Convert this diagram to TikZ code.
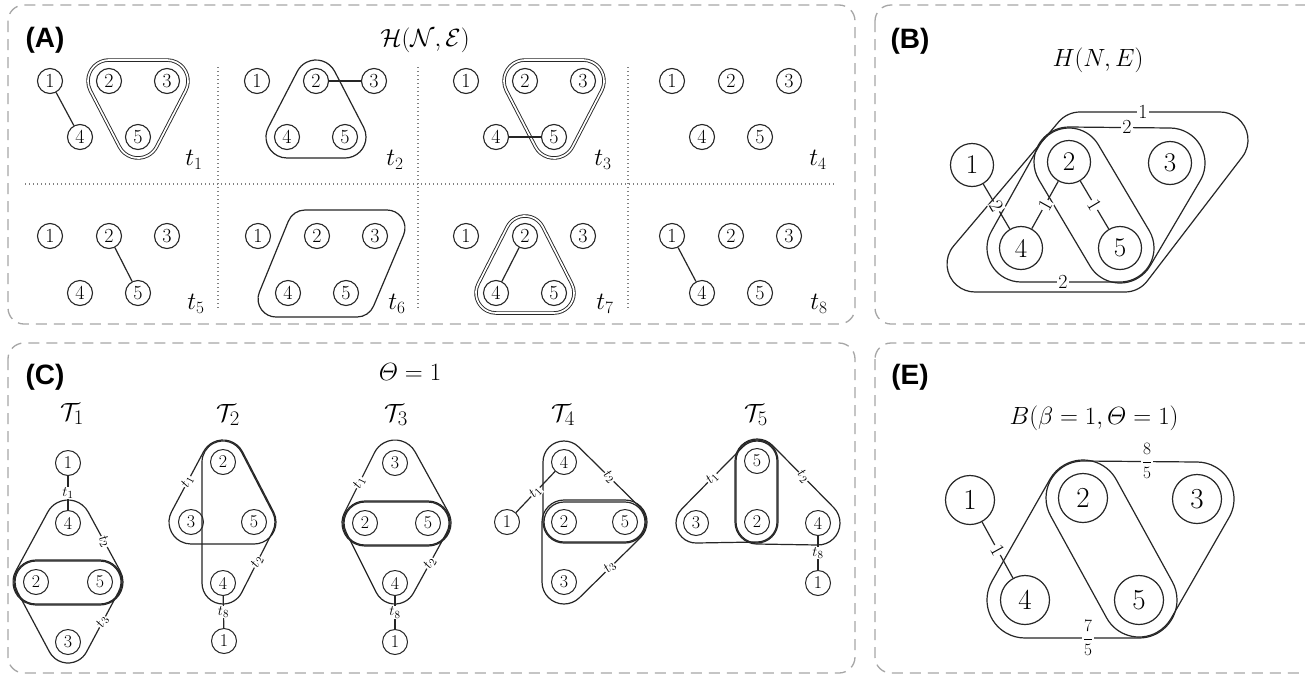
\documentclass[tikz,border=0pt]{standalone}
\usepackage{amsmath}
\usepackage{fontspec}
\newfontfamily\panelfont{Liberation Sans}
\usetikzlibrary{calc}

% Rounded hulls around 2, 3 or 4 centres (counter-clockwise order), radius in pt
\newcommand\hullII[4][]{%
  \draw[hull,#1] let \p1=(#3), \p2=(#4), \n1={atan2((\y2)-(\y1),(\x2)-(\x1))} in
    ($(\p1)+(\n1-90:#2pt)$) -- ($(\p2)+(\n1-90:#2pt)$)
    arc[start angle=\n1-90, delta angle=180, radius=#2pt]
    -- ($(\p1)+(\n1+90:#2pt)$)
    arc[start angle=\n1+90, delta angle=180, radius=#2pt] -- cycle;}
\newcommand\hullIII[5][]{%
  \draw[hull,#1] let \p1=(#3), \p2=(#4), \p3=(#5),
    \n1={atan2((\y2)-(\y1),(\x2)-(\x1))}, \n2={atan2((\y3)-(\y2),(\x3)-(\x2))},
    \n3={atan2((\y1)-(\y3),(\x1)-(\x3))} in
    ($(\p1)+(\n1-90:#2pt)$) -- ($(\p2)+(\n1-90:#2pt)$)
    arc[start angle=\n1-90, delta angle={mod((\n2)-(\n1)+720,360)}, radius=#2pt]
    -- ($(\p3)+(\n2-90:#2pt)$)
    arc[start angle=\n2-90, delta angle={mod((\n3)-(\n2)+720,360)}, radius=#2pt]
    -- ($(\p1)+(\n3-90:#2pt)$)
    arc[start angle=\n3-90, delta angle={mod((\n1)-(\n3)+720,360)}, radius=#2pt] -- cycle;}
\newcommand\hullIV[6][]{%
  \draw[hull,#1] let \p1=(#3), \p2=(#4), \p3=(#5), \p4=(#6),
    \n1={atan2((\y2)-(\y1),(\x2)-(\x1))}, \n2={atan2((\y3)-(\y2),(\x3)-(\x2))},
    \n3={atan2((\y4)-(\y3),(\x4)-(\x3))}, \n4={atan2((\y1)-(\y4),(\x1)-(\x4))} in
    ($(\p1)+(\n1-90:#2pt)$) -- ($(\p2)+(\n1-90:#2pt)$)
    arc[start angle=\n1-90, delta angle={mod((\n2)-(\n1)+720,360)}, radius=#2pt]
    -- ($(\p3)+(\n2-90:#2pt)$)
    arc[start angle=\n2-90, delta angle={mod((\n3)-(\n2)+720,360)}, radius=#2pt]
    -- ($(\p4)+(\n3-90:#2pt)$)
    arc[start angle=\n3-90, delta angle={mod((\n4)-(\n3)+720,360)}, radius=#2pt]
    -- ($(\p1)+(\n4-90:#2pt)$)
    arc[start angle=\n4-90, delta angle={mod((\n1)-(\n4)+720,360)}, radius=#2pt] -- cycle;}
% label on the side P->Q of a hull of radius r
\newcommand\sidelabel[4]{%
  \path ($(#2)!#1pt!-90:(#3)$) -- node[tl,sloped]{#4} ($(#3)!#1pt!90:(#2)$);}

\tikzset{
  panel/.style={draw=black!35, line width=1.3pt, dash pattern=on 11pt off 7pt, rounded corners=16pt},
  sepline/.style={draw=black!50, line width=1.3pt, dash pattern=on 1.3pt off 2.7pt},
  plabel/.style={font=\panelfont\bfseries\fontsize{28}{28}\selectfont, inner sep=0pt},
  ttl/.style={font=\fontsize{26}{26}\selectfont, inner sep=0pt},
  ttitle/.style={font=\fontsize{30}{30}\selectfont, inner sep=0pt},
  tlab/.style={font=\fontsize{24}{24}\selectfont, inner sep=0pt},
  vA/.style={circle, draw=black!85, line width=1.1pt, minimum size=25pt, inner sep=0pt, font=\fontsize{20}{20}\selectfont},
  vB/.style={circle, draw=black!85, line width=1.2pt, minimum size=43pt, inner sep=0pt, font=\fontsize{27}{27}\selectfont},
  vE/.style={vB, minimum size=49pt, font=\fontsize{29}{29}\selectfont},
  vC/.style={circle, draw=black!85, line width=1pt, minimum size=25pt, inner sep=0pt, font=\fontsize{18}{18}\selectfont},
  hull/.style={draw=black!85, line width=1.2pt},
  dbl/.style={double=white, double distance=1.7pt, line width=0.9pt},
  link/.style={draw=black!85, line width=1.2pt},
  wl/.style={fill=white, inner sep=1pt, font=\fontsize{20}{20}\selectfont},
  tl/.style={fill=white, inner sep=0.6pt, font=\fontsize{15}{15}\selectfont},
}

\begin{document}
\begin{tikzpicture}[x=1pt, y=-1pt, line join=round]
\useasboundingbox (0,0) rectangle (1305,675);
\clip (0,0) rectangle (1305,675);
\fill[white] (0,0) rectangle (1305,675);

% ---------- frames ----------
\draw[panel] (8,5) rectangle (855,324);
\draw[panel] (875,5) rectangle (1330,324);
\draw[panel] (8,343) rectangle (855,673);
\draw[panel] (875,343) rectangle (1330,673);

% ---------- panel A ----------
\node[plabel] (labA) at (45,40) {(A)};
\node[ttl] (titA) at (425,40) {$\mathcal{H}(\mathcal{N},\mathcal{E})$};
\draw[sepline] (218,67) -- (218,308);
\draw[sepline] (418,67) -- (418,308);
\draw[sepline] (628,67) -- (628,308);
\draw[sepline] (25,184) -- (835,184);

\foreach \i/\x/\ya/\yb in {1/50/81/137, 2/257/81/137, 3/466/81/137, 4/672/81/137,
                           5/50/236/293, 6/258/236/293, 7/466/236/293, 8/672/236/293}{
  \node[vA] (a\i n1) at (\x,\ya) {1};
  \node[vA] (a\i n2) at ({\x+59},\ya) {2};
  \node[vA] (a\i n3) at ({\x+117},\ya) {3};
  \node[vA] (a\i n4) at ({\x+30},\yb) {4};
  \node[vA] (a\i n5) at ({\x+88},\yb) {5};
}
\hullIII[dbl]{21}{a1n2}{a1n5}{a1n3}
\hullIII{21}{a2n2}{a2n4}{a2n5}
\hullIII[dbl]{21}{a3n2}{a3n5}{a3n3}
\hullIV{18}{305,228}{276,299}{357,299}{387,228}
\hullIII[dbl]{20}{a7n2}{a7n4}{a7n5}
\draw[link] (a1n1) -- (a1n4);
\draw[link] (a2n2) -- (a2n3);
\draw[link] (a3n4) -- (a3n5);
\draw[link] (a5n2) -- (a5n5);
\draw[link] (a7n2) -- (a7n4);
\draw[link] (a8n1) -- (a8n4);

\node[tlab] (t1) at (194,160) {$t_1$};
\node[tlab] (t2) at (395,160) {$t_2$};
\node[tlab] (t3) at (603,160) {$t_3$};
\node[tlab] (t4) at (818,160) {$t_4$};
\node[tlab] (t5) at (196,304) {$t_5$};
\node[tlab] (t6) at (397,304) {$t_6$};
\node[tlab] (t7) at (605,304) {$t_7$};
\node[tlab] (t8) at (819,304) {$t_8$};

% ---------- panel B ----------
\node[plabel] (labB) at (910,41) {(B)};
\node[ttl] (titB) at (1098,60) {$H(N,E)$};
\node[vB] (bn1) at (972,165) {1};
\node[vB] (bn2) at (1069,162) {2};
\node[vB] (bn3) at (1170,163) {3};
\node[vB] (bn4) at (1021,248) {4};
\node[vB] (bn5) at (1120,248) {5};
\hullIV{28}{1080,140}{975,264}{1125,264}{1220,140}
\hullIII{35}{bn2}{bn5}{bn3}
\hullIII{34}{bn2}{bn4}{bn5}
\node[wl] (bw1) at (1143,112) {1};
\node[wl] (bw2) at (1127,127) {2};
\node[wl] (bw3) at (1063,282) {2};
\draw[link] (bn1) -- node[wl,sloped]{2} (bn4);
\draw[link] (bn2) -- node[wl,sloped]{1} (bn4);
\draw[link] (bn2) -- node[wl,sloped]{1} (bn5);

% ---------- panel E ----------
\node[plabel] (labE) at (910,377) {(E)};
\node[ttl] (titE) at (1094,418) {$B(\beta = 1, \varTheta = 1)$};
\node[vE] (en1) at (970,500) {1};
\node[vE] (en2) at (1083,498) {2};
\node[vE] (en3) at (1197,499) {3};
\node[vE] (en4) at (1025,600) {4};
\node[vE] (en5) at (1139,600) {5};
\hullIII{37}{en2}{en5}{en3}
\hullIII{38}{en2}{en4}{en5}
\draw[link] (en1) -- node[wl,sloped]{1} (en4);
\node[wl, font=\fontsize{19}{19}\selectfont] (ew1) at (1147,461) {$\dfrac{8}{5}$};
\node[wl, font=\fontsize{19}{19}\selectfont] (ew2) at (1088,638) {$\dfrac{7}{5}$};

% ---------- panel C ----------
\node[plabel] (labC) at (45,377) {(C)};
\node[ttl] (titC) at (410,372) {$\varTheta = 1$};
\node[ttitle] (T1) at (72,414) {$\mathcal{T}_1$};
\node[ttitle] (T2) at (228,415) {$\mathcal{T}_2$};
\node[ttitle] (T3) at (396,415) {$\mathcal{T}_3$};
\node[ttitle] (T4) at (563,415) {$\mathcal{T}_4$};
\node[ttitle] (T5) at (756,415) {$\mathcal{T}_5$};

% T1
\node[vC] (c1n1) at (68,463) {1};
\node[vC] (c1n4) at (68,523) {4};
\node[vC] (c1n2) at (36,582) {2};
\node[vC] (c1n5) at (100,582) {5};
\node[vC] (c1n3) at (68,642) {3};
\hullII{22}{c1n2}{c1n5}
\hullIII{23}{c1n4}{c1n2}{c1n5}
\hullIII{21}{c1n2}{c1n3}{c1n5}
\draw[link] (c1n1) -- node[tl]{$t_1$} (c1n4);
\sidelabel{23}{c1n5}{c1n4}{$t_2$}
\sidelabel{21}{c1n3}{c1n5}{$t_3$}

% T2
\node[vC] (c2n2) at (223,462) {2};
\node[vC] (c2n3) at (191,522) {3};
\node[vC] (c2n5) at (254,522) {5};
\node[vC] (c2n4) at (223,583) {4};
\node[vC] (c2n1) at (224,641) {1};
\hullIII{22}{c2n2}{c2n3}{c2n5}
\hullIII{21}{c2n2}{c2n4}{c2n5}
\draw[link] (c2n4) -- node[tl]{$t_8$} (c2n1);
\sidelabel{22}{c2n2}{c2n3}{$t_1$}
\sidelabel{21}{c2n4}{c2n5}{$t_2$}

% T3
\node[vC] (c3n3) at (395,463) {3};
\node[vC] (c3n2) at (365,523) {2};
\node[vC] (c3n5) at (428,523) {5};
\node[vC] (c3n4) at (395,583) {4};
\node[vC] (c3n1) at (395,642) {1};
\hullII{22}{c3n2}{c3n5}
\hullIII{23}{c3n3}{c3n2}{c3n5}
\hullIII{21}{c3n2}{c3n4}{c3n5}
\draw[link] (c3n4) -- node[tl]{$t_8$} (c3n1);
\sidelabel{23}{c3n3}{c3n2}{$t_1$}
\sidelabel{21}{c3n4}{c3n5}{$t_2$}

% T4
\node[vC] (c4n4) at (564,462) {4};
\node[vC] (c4n2) at (564,522) {2};
\node[vC] (c4n5) at (625,522) {5};
\node[vC] (c4n3) at (564,582) {3};
\node[vC] (c4n1) at (507,522) {1};
\hullII{20}{c4n2}{c4n5}
\hullIII{21}{c4n4}{c4n2}{c4n5}
\hullIII{22}{c4n2}{c4n3}{c4n5}
\draw[link] (c4n1) -- node[tl,sloped]{$t_1$} (c4n4);
\sidelabel{21}{c4n5}{c4n4}{$t_2$}
\sidelabel{22}{c4n3}{c4n5}{$t_3$}

% T5
\node[vC] (c5n5) at (757,461) {5};
\node[vC] (c5n2) at (757,522) {2};
\node[vC] (c5n3) at (696,523) {3};
\node[vC] (c5n4) at (818,523) {4};
\node[vC] (c5n1) at (818,583) {1};
\hullII{21}{c5n5}{c5n2}
\hullIII{20}{c5n5}{c5n3}{c5n2}
\hullIII{22}{c5n5}{c5n2}{c5n4}
\draw[link] (c5n4) -- node[tl]{$t_8$} (c5n1);
\sidelabel{20}{c5n5}{c5n3}{$t_1$}
\sidelabel{22}{c5n4}{c5n5}{$t_2$}
\end{tikzpicture}
\end{document}
